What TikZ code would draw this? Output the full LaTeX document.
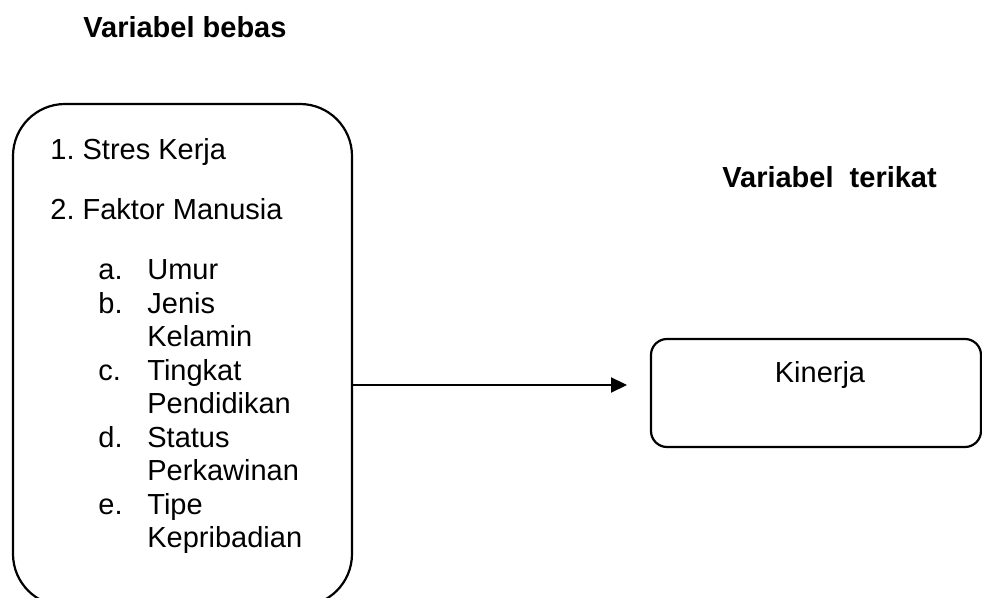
\documentclass[tikz,border=0pt]{standalone}
\usepackage{fontspec}
\setmainfont{Liberation Sans}
\usetikzlibrary{arrows.meta}
\tikzset{
  varbox/.style={draw, line width=1.1pt},
  judul/.style={font=\fontsize{14.5}{16.7}\selectfont\bfseries, anchor=base west, inner sep=0pt},
  isi/.style={font=\fontsize{14.5}{16.7}\selectfont, anchor=base west, inner sep=0pt},
  panah/.style={line width=1.1pt, -{Triangle[length=8pt,width=7.5pt]}}
}
\begin{document}
\begin{tikzpicture}[x=0.5pt,y=-0.5pt]
  \useasboundingbox (0,0) rectangle (982,598);
  % judul
  \node[judul] (jbebas) at (83,38) {Variabel bebas};
  \node[judul] (jterikat) at (722,188) {Variabel\ \ terikat};
  % kotak variabel bebas
  \node[varbox, rounded corners=26pt, minimum width=169.5pt, minimum height=251pt] (bebas) at (182.5,355) {};
  \foreach \y/\no/\teks in {160/1./Stres Kerja, 220/2./Faktor Manusia}
  {
    \node[isi] (nomor\y) at (50,\y) {\no\ \teks};
  }
  \foreach \y/\huruf/\teks in {280/a./Umur, 314/b./Jenis, 347//Kelamin, 381/c./Tingkat, 414//Pendidikan, 448/d./Status, 481//Perkawinan, 515/e./Tipe, 548//Kepribadian}
  {
    \node[isi] (huruf\y) at (98,\y) {\huruf};
    \node[isi] (teks\y) at (147,\y) {\teks};
  }
  % kotak variabel terikat
  \node[varbox, rounded corners=8pt, minimum width=165pt, minimum height=54pt] (terikat) at (816,393) {};
  \node[isi, anchor=base] (kinerja) at (820,383) {Kinerja};
  % panah
  \coordinate (ujung) at (627,385);
  \draw[panah] (bebas.east |- ujung) -- (ujung);
\end{tikzpicture}
\end{document}
